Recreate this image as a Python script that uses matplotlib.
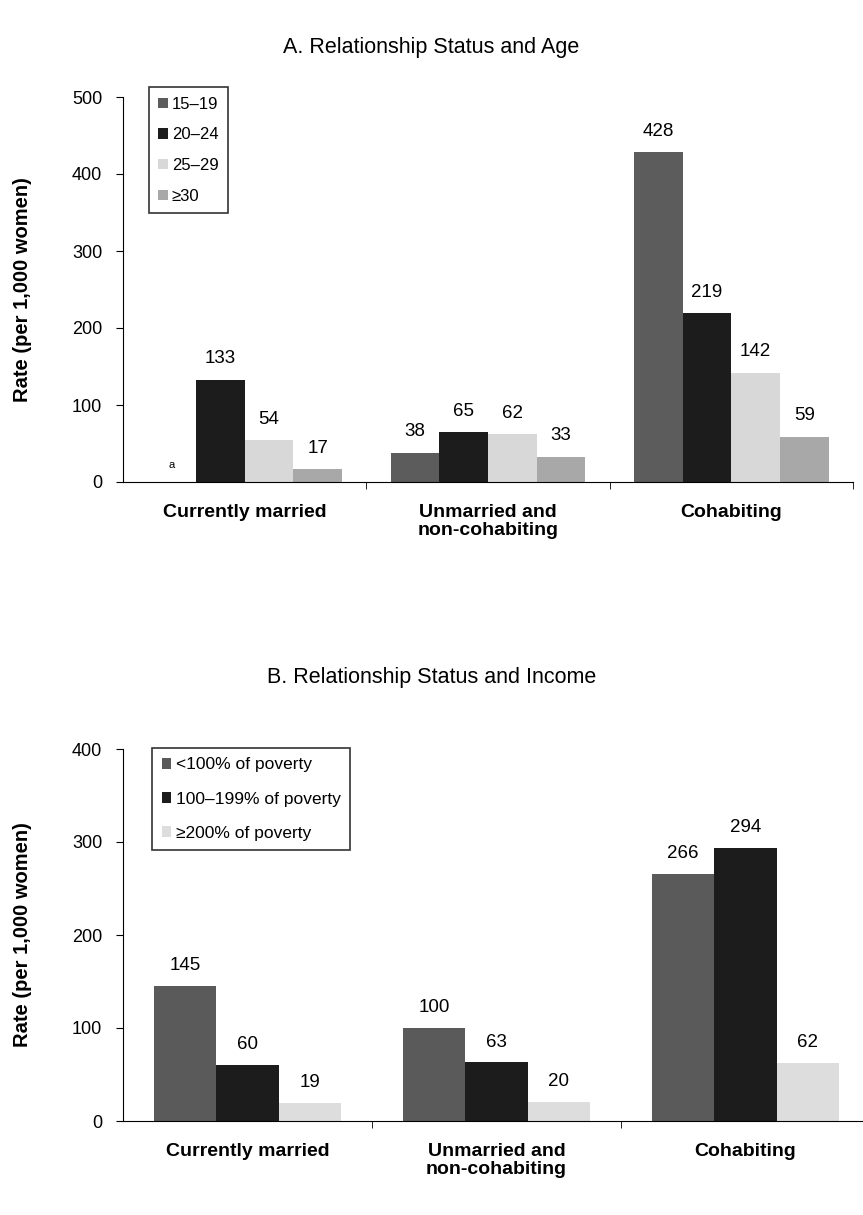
import numpy as np
import matplotlib.pyplot as plt
from matplotlib.ticker import FixedLocator

plt.rcParams['font.family'] = ['Liberation Sans', 'DejaVu Sans']

# data
categories = ['Currently married', 'Unmarried and\nnon-cohabiting', 'Cohabiting']

age_groups = ['15\u201319', '20\u201324', '25\u201329', '\u226530']
age_values = [
    [None, 38, 428],
    [133, 65, 219],
    [54, 62, 142],
    [17, 33, 59],
]
age_colors = ['#5c5c5c', '#1c1c1c', '#d8d8d8', '#a8a8a8']

income_groups = ['<100% of poverty', '100\u2013199% of poverty', '\u2265200% of poverty']
income_values = [
    [145, 100, 266],
    [60, 63, 294],
    [19, 20, 62],
]
income_colors = ['#5a5a5a', '#1c1c1c', '#dddddd']

fig = plt.figure(figsize=(8.63, 12.15), dpi=100)
ax1 = fig.add_axes([0.1425, 1 - 482 / 1215, 730 / 863, 385 / 1215])
ax2 = fig.add_axes([0.1425, 1 - 1121 / 1215, 747 / 863, 372 / 1215])


def draw_panel(ax, groups, values, colors, width, ymax, ystep, leg_pos, leg_fs, leg_sp, label_x):
    x = np.arange(len(categories))
    n = len(groups)
    for i, (g, vals, c) in enumerate(zip(groups, values, colors)):
        pos = x + (i - (n - 1) / 2) * width
        heights = [v if v is not None else 0 for v in vals]
        ax.bar(pos, heights, width, color=c, label=g, linewidth=0)
        for p, v in zip(pos, vals):
            if v is None:
                ax.text(p, ymax * 0.03, 'a', ha='center', va='bottom', fontsize=8)
            else:
                ax.text(p, v + ymax * 0.032, str(v), ha='center', va='bottom', fontsize=13.5)
    ax.set_xlim(-0.5, 2.5)
    ax.set_ylim(0, ymax)
    ax.set_yticks(np.arange(0, ymax + 1, ystep))
    ax.set_xticks(x)
    ax.set_xticklabels(categories, fontweight='bold', fontsize=14, linespacing=1.05)
    ax.xaxis.set_minor_locator(FixedLocator([0.5, 1.5, 2.5]))
    ax.tick_params(axis='x', which='major', length=0, pad=16)
    ax.tick_params(axis='x', which='minor', length=5, direction='out')
    ax.tick_params(axis='y', length=5, direction='out', labelsize=13, pad=10)
    ax.spines['top'].set_visible(False)
    ax.spines['right'].set_visible(False)
    ax.set_ylabel('Rate (per 1,000 women)', fontweight='bold', fontsize=14.5)
    ax.yaxis.set_label_coords(label_x, 0.5)
    leg = ax.legend(loc='upper left', bbox_to_anchor=leg_pos, fontsize=leg_fs,
                    frameon=True, fancybox=False, edgecolor='black',
                    handlelength=0.55, handleheight=0.55, handletextpad=0.25,
                    labelspacing=leg_sp, borderpad=0.55, borderaxespad=0)
    leg.get_frame().set_linewidth(1.2)


draw_panel(ax1, age_groups, age_values, age_colors, 0.2, 500, 100,
           (0.036, 1.025), 12, 0.95, -0.125)
draw_panel(ax2, income_groups, income_values, income_colors, 0.25, 400, 100,
           (0.039, 1.003), 12.5, 1.1, -0.122)

fig.text(0.5, 1 - 47 / 1215, 'A. Relationship Status and Age', ha='center', va='center', fontsize=15.5)
fig.text(0.5, 1 - 677 / 1215, 'B. Relationship Status and Income', ha='center', va='center', fontsize=15.5)

fig.savefig('out.png', dpi=100)
